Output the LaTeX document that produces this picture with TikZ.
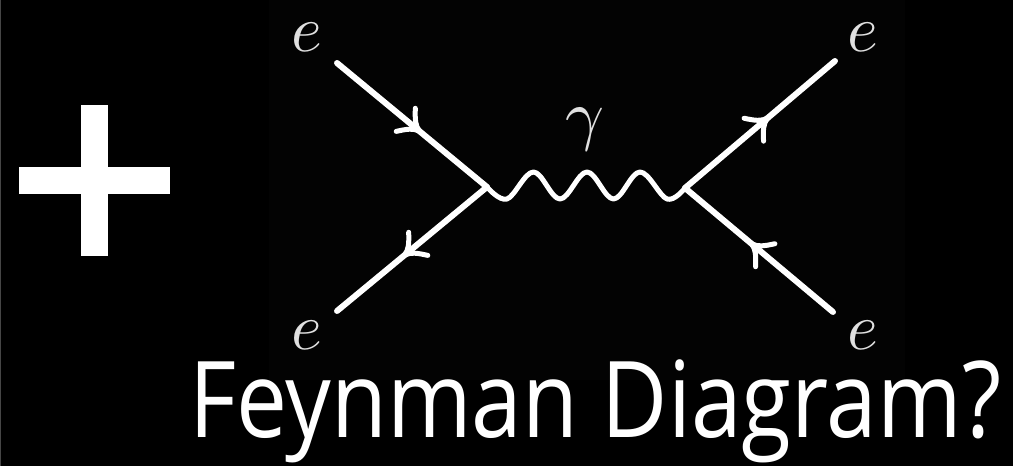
\documentclass[tikz,border=0pt]{standalone}
\usepackage{fontspec}
\setmainfont{Open Sans}
\usetikzlibrary{calc}
\definecolor{boxbg}{RGB}{3,3,3}
\definecolor{edgegray}{RGB}{70,70,70}
\tikzset{
  barbline/.style={draw=white, line width=5pt, line cap=round, line join=round},
  fermion/.style={draw=white, line width=6pt, line cap=round},
  photon/.style={draw=white, line width=5pt, line join=round, line cap=round},
  elabel/.style={text=white!88!black, inner sep=0pt},
  plusbar/.style={fill=white, draw=none},
}
\newcommand\barbat[3]{%
  \begin{scope}[shift={($(#1)!0.52!(#2)$)}, rotate=#3]
    \draw[barbline] (-12,15) .. controls (-5,6) and (-1,1.5) .. (6,0)
      .. controls (-1,-1.5) and (-5,-6) .. (-12,-15);
  \end{scope}}
\newlength\titlewd
\newcommand\bigmath[2]{\scalebox{#1}{$#2$}}
\begin{document}
\settowidth\titlewd{\fontsize{106}{110}\selectfont Feynman Diagram?}%
\pgfmathsetmacro\fxs{812/\titlewd}%
\begin{tikzpicture}[x=1pt,y=1pt]
\useasboundingbox (0,0) rectangle (1013,466);
\fill[black] (0,0) rectangle (1013,466);
\draw[edgegray, line width=1.2pt] (0.6,0) -- (0.6,466);
% diagram image background
\fill[boxbg] (269,86) rectangle (905,466);
% plus sign
\fill[plusbar] (81,210) rectangle (108,361);
\fill[plusbar] (19,272) rectangle (170,299);
% vertices and external points
\coordinate (vL) at (487,279);
\coordinate (vR) at (685,278);
\coordinate (tl) at (337,403);
\coordinate (bl) at (337,155);
\coordinate (tr) at (835,405);
\coordinate (br) at (833,154);
% fermion lines
\draw[fermion] (tl) -- (vL);
\draw[fermion] (vL) -- (bl);
\draw[fermion] (vR) -- (tr);
\draw[fermion] (br) -- (vR);
% arrowheads
\barbat{tl}{vL}{-39.6}
\barbat{vL}{bl}{-140.4}
\barbat{vR}{tr}{40.3}
\barbat{br}{vR}{140.0}
% photon
\draw[photon] plot[smooth, tension=0.6] coordinates {(vL) (507,267) (533.5,294) (560,267) (587,294) (613.5,267) (640,294) (667,267) (vR)};
% labels
\node[elabel] (eTL) at (307,429) {\bigmath{6.6}{e}};
\node[elabel] (eBL) at (307,131) {\bigmath{6.6}{e}};
\node[elabel] (eTR) at (863,429) {\bigmath{6.6}{e}};
\node[elabel] (eBR) at (863,131) {\bigmath{6.6}{e}};
\node[elabel] (gam) at (585,337) {\bigmath{6.8}{\gamma}};
% title
\node[anchor=base west, inner sep=0pt, text=white] (title) at (189,28)
  {\scalebox{\fxs}[1]{\fontsize{106}{110}\selectfont Feynman Diagram?}};
\end{tikzpicture}
\end{document}
